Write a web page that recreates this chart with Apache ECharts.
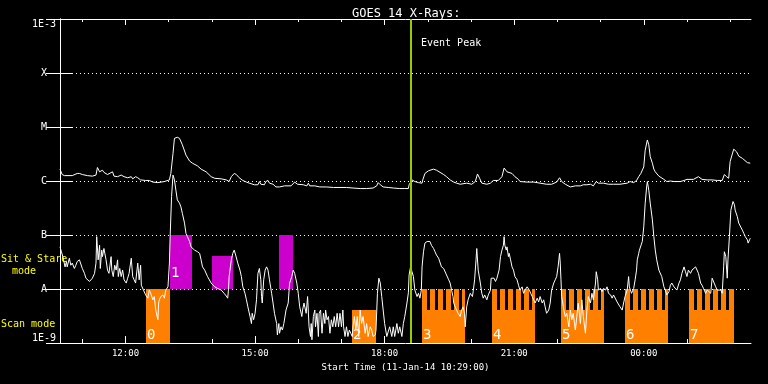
<!DOCTYPE html>
<html><head><meta charset="utf-8">
<script src="https://cdn.jsdelivr.net/npm/echarts@6/dist/echarts.min.js"></script>
<style>html,body{margin:0;padding:0;background:#000}#c{width:768px;height:384px}</style>
</head><body><div id="c"></div><script>
// ---- data (x: minutes since start 11-Jan-14 10:29:00, y: log10 flux W/m^2) ----
const titleText = 'GOES 14 X-Rays:';
const startLabel = 'Start Time (11-Jan-14 10:29:00)';
const xMax = 960;
const hourTickMinutes = [31,91,151,211,271,331,391,451,511,571,631,691,751,811,871,931];
const xLabelMinutes = [91,271,451,631,811];
const xLabels = ['12:00','15:00','18:00','21:00','00:00'];
const yTickValues = [-9,-8,-7,-6,-5,-4,-3];
const yTickLabels = ['1E-9','A','B','C','M','X','1E-3'];
const eventPeakMinute = 487;
const eventLabel = 'Event Peak';
const modeLabels = ['Sit & Stare', 'mode', 'Scan mode'];

const longXray = [[0,-5.78],[3,-5.88],[6,-5.90],[17,-5.90],[24,-5.86],[27,-5.86],[31,-5.88],[38,-5.90],[45,-5.91],[50,-5.89],[52,-5.75],[55,-5.83],[57,-5.81],[59,-5.80],[61,-5.84],[66,-5.88],[68,-5.90],[73,-5.83],[75,-5.91],[80,-5.92],[85,-5.89],[87,-5.87],[89,-5.92],[94,-5.94],[99,-5.92],[101,-5.96],[105,-5.92],[108,-5.94],[112,-5.98],[119,-5.99],[124,-5.99],[129,-6.02],[136,-6.03],[145,-6.01],[152,-5.98],[154,-5.86],[157,-5.49],[159,-5.21],[163,-5.19],[166,-5.21],[170,-5.33],[175,-5.52],[180,-5.63],[184,-5.67],[191,-5.72],[196,-5.78],[203,-5.83],[210,-5.92],[215,-5.95],[224,-5.96],[231,-5.98],[235,-6.01],[238,-5.92],[242,-5.86],[245,-5.88],[249,-5.94],[254,-5.99],[259,-6.02],[263,-6.04],[270,-6.07],[275,-6.07],[277,-6.01],[279,-6.06],[284,-6.07],[286,-6.01],[289,-5.99],[291,-6.04],[296,-6.06],[300,-6.11],[305,-6.11],[312,-6.09],[321,-6.09],[326,-6.02],[330,-6.06],[338,-6.07],[343,-6.09],[345,-6.04],[347,-6.09],[354,-6.09],[361,-6.11],[370,-6.11],[380,-6.12],[389,-6.12],[398,-6.12],[407,-6.13],[417,-6.14],[426,-6.14],[435,-6.13],[440,-6.09],[442,-6.03],[445,-6.07],[449,-6.11],[456,-6.12],[463,-6.13],[472,-6.14],[479,-6.14],[484,-6.14],[485,-6.07],[489,-5.98],[491,-5.98],[493,-6.01],[498,-6.03],[503,-6.04],[504,-5.98],[507,-5.86],[512,-5.81],[519,-5.78],[523,-5.80],[528,-5.84],[533,-5.88],[537,-5.92],[542,-5.98],[547,-6.02],[551,-6.04],[556,-6.06],[565,-6.04],[572,-6.06],[577,-6.01],[580,-5.87],[583,-5.95],[586,-6.04],[593,-6.06],[598,-6.04],[602,-5.99],[609,-5.99],[614,-5.92],[617,-5.76],[621,-5.83],[623,-5.81],[628,-5.86],[632,-5.92],[637,-5.97],[639,-6.01],[649,-6.02],[658,-6.02],[667,-6.04],[676,-6.06],[683,-6.06],[690,-6.02],[694,-5.94],[697,-6.01],[702,-6.06],[709,-6.11],[716,-6.09],[723,-6.09],[727,-6.07],[732,-6.07],[737,-6.06],[741,-6.09],[745,-6.01],[748,-6.04],[755,-6.04],[762,-6.06],[769,-6.06],[778,-6.06],[788,-6.04],[792,-6.01],[797,-6.03],[801,-5.99],[804,-5.92],[807,-5.86],[811,-5.74],[813,-5.43],[816,-5.24],[818,-5.33],[820,-5.55],[823,-5.67],[825,-5.78],[827,-5.83],[832,-5.91],[839,-5.97],[843,-6.01],[848,-6.00],[853,-6.01],[862,-6.01],[867,-5.99],[871,-5.97],[880,-5.97],[887,-5.92],[892,-5.97],[899,-5.98],[906,-5.98],[913,-5.99],[920,-5.99],[923,-5.88],[926,-5.92],[929,-5.95],[931,-5.64],[936,-5.41],[940,-5.46],[943,-5.54],[948,-5.58],[955,-5.66],[959,-5.67]];

const shortXray = [[0,-7.22],[2,-7.31],[5,-7.46],[7,-7.59],[9,-7.49],[10,-7.59],[13,-7.43],[15,-7.56],[17,-7.52],[20,-7.62],[22,-7.56],[24,-7.49],[27,-7.46],[29,-7.49],[31,-7.62],[34,-7.71],[36,-7.80],[38,-7.83],[41,-7.86],[43,-7.83],[45,-7.80],[48,-7.71],[50,-7.52],[51,-7.03],[53,-7.46],[55,-7.19],[56,-7.62],[58,-7.28],[59,-7.40],[61,-7.25],[64,-7.46],[66,-7.65],[68,-7.71],[71,-7.40],[72,-7.65],[74,-7.77],[76,-7.56],[78,-7.65],[80,-7.46],[81,-7.77],[83,-7.62],[85,-7.77],[87,-7.65],[89,-7.83],[92,-7.89],[94,-7.80],[96,-7.71],[99,-7.43],[101,-7.77],[103,-7.83],[105,-7.89],[108,-7.52],[110,-7.83],[112,-7.56],[113,-7.93],[116,-8.02],[119,-8.11],[122,-8.17],[124,-8.02],[126,-8.08],[129,-8.20],[131,-8.14],[133,-8.39],[136,-8.57],[137,-8.26],[138,-8.20],[140,-8.14],[143,-8.11],[145,-8.17],[147,-8.02],[150,-7.96],[152,-7.52],[153,-7.03],[155,-6.29],[157,-5.89],[159,-5.98],[161,-6.17],[163,-6.35],[166,-6.41],[168,-6.48],[170,-6.60],[173,-6.78],[175,-6.97],[177,-7.03],[180,-7.12],[182,-7.22],[184,-7.22],[187,-7.28],[191,-7.31],[194,-7.34],[196,-7.46],[198,-7.59],[201,-7.65],[205,-7.77],[210,-7.89],[215,-7.96],[219,-7.99],[224,-8.02],[228,-8.08],[231,-8.13],[233,-8.17],[234,-8.02],[235,-7.77],[238,-7.46],[240,-7.34],[242,-7.28],[244,-7.37],[247,-7.52],[250,-7.65],[252,-7.77],[254,-7.96],[257,-8.08],[259,-8.20],[261,-8.33],[264,-8.51],[266,-8.64],[267,-8.45],[269,-8.57],[271,-8.45],[273,-8.20],[275,-7.71],[277,-7.62],[279,-7.83],[280,-8.14],[281,-8.26],[283,-7.83],[285,-7.65],[287,-7.59],[289,-7.65],[291,-7.83],[294,-8.08],[296,-8.26],[298,-8.45],[301,-8.64],[302,-8.85],[304,-8.64],[305,-8.82],[307,-8.70],[309,-8.76],[311,-8.64],[314,-8.39],[317,-8.26],[319,-7.89],[322,-7.77],[324,-7.65],[326,-7.71],[329,-7.89],[331,-8.08],[333,-8.33],[336,-8.51],[337,-8.39],[339,-8.26],[342,-8.45],[344,-8.14],[345,-8.11],[346,-8.70],[348,-8.88],[349,-8.64],[350,-8.94],[352,-8.51],[354,-8.39],[355,-8.70],[357,-8.45],[359,-8.88],[360,-8.45],[362,-8.39],[364,-8.82],[366,-8.45],[368,-8.64],[369,-8.39],[371,-8.57],[373,-8.51],[375,-8.82],[377,-8.57],[379,-8.70],[381,-8.51],[383,-8.70],[385,-8.45],[387,-8.70],[389,-8.45],[391,-8.70],[393,-8.39],[394,-8.70],[396,-8.88],[398,-8.70],[400,-8.88],[402,-8.76],[404,-8.82],[406,-8.88],[407,-8.70],[409,-8.51],[411,-8.76],[413,-8.51],[415,-8.88],[417,-8.39],[419,-8.64],[421,-8.51],[424,-8.82],[426,-8.64],[428,-8.88],[431,-8.70],[433,-8.76],[435,-8.88],[438,-8.85],[439,-8.76],[441,-8.08],[443,-7.80],[445,-7.89],[447,-8.14],[449,-8.39],[451,-8.64],[454,-8.88],[456,-8.85],[458,-8.70],[461,-8.88],[463,-8.70],[465,-8.88],[468,-8.64],[470,-8.82],[472,-8.70],[475,-8.88],[477,-8.64],[479,-8.51],[482,-8.26],[484,-8.07],[485,-7.74],[487,-7.59],[489,-7.68],[491,-7.77],[493,-8.02],[496,-8.14],[498,-8.08],[500,-8.17],[502,-8.02],[503,-7.59],[505,-7.31],[507,-7.15],[510,-7.12],[512,-7.15],[514,-7.12],[516,-7.19],[519,-7.25],[521,-7.31],[523,-7.37],[526,-7.43],[528,-7.46],[530,-7.59],[533,-7.62],[535,-7.65],[537,-7.74],[540,-7.83],[542,-7.89],[544,-8.02],[546,-8.14],[547,-8.26],[549,-8.33],[551,-8.39],[553,-8.45],[556,-8.51],[558,-8.39],[560,-8.33],[562,-8.45],[563,-8.70],[565,-8.33],[567,-8.20],[570,-8.08],[572,-8.05],[573,-8.14],[574,-8.05],[576,-7.83],[578,-7.46],[579,-7.25],[581,-7.65],[584,-7.89],[586,-8.08],[588,-8.17],[590,-8.11],[592,-8.08],[593,-8.20],[595,-8.11],[598,-8.02],[599,-7.80],[601,-7.83],[603,-7.80],[605,-7.86],[607,-7.80],[608,-7.83],[610,-7.65],[612,-7.40],[614,-7.28],[616,-7.19],[617,-7.03],[618,-7.19],[620,-7.28],[621,-7.22],[623,-7.40],[624,-7.34],[626,-7.46],[628,-7.59],[630,-7.65],[632,-7.77],[635,-7.83],[637,-7.93],[639,-8.02],[642,-7.96],[644,-8.08],[646,-8.02],[649,-7.96],[650,-7.93],[652,-8.02],[653,-8.05],[656,-8.14],[658,-8.17],[660,-8.26],[663,-8.17],[665,-8.24],[667,-8.14],[670,-8.26],[672,-8.20],[674,-8.33],[676,-8.45],[679,-8.39],[681,-8.26],[683,-8.02],[686,-7.89],[688,-7.83],[690,-7.77],[692,-7.59],[694,-7.34],[695,-7.52],[696,-7.83],[697,-8.14],[700,-8.39],[702,-8.51],[704,-8.45],[707,-8.70],[709,-8.39],[711,-8.57],[713,-8.45],[716,-8.76],[718,-8.51],[720,-8.26],[723,-8.64],[725,-8.20],[727,-8.51],[730,-8.82],[732,-8.39],[734,-8.14],[737,-8.26],[739,-8.08],[741,-8.20],[744,-7.89],[745,-7.68],[747,-7.83],[748,-8.02],[751,-7.99],[753,-8.05],[755,-7.99],[758,-8.02],[760,-7.96],[762,-8.08],[765,-8.11],[767,-8.17],[769,-8.11],[771,-8.14],[774,-8.24],[776,-8.26],[778,-8.33],[781,-8.39],[783,-8.26],[785,-8.14],[788,-8.02],[790,-7.77],[791,-7.96],[794,-8.08],[796,-8.11],[797,-7.99],[799,-7.83],[801,-7.65],[802,-7.46],[804,-7.34],[805,-7.28],[807,-7.28],[809,-7.12],[811,-6.85],[813,-6.41],[815,-6.11],[816,-6.01],[818,-6.17],[820,-6.41],[823,-6.72],[825,-7.03],[827,-7.28],[829,-7.46],[832,-7.65],[834,-7.68],[836,-7.77],[839,-7.96],[841,-8.02],[843,-8.11],[846,-8.05],[848,-7.93],[850,-7.89],[853,-7.96],[855,-7.93],[857,-8.02],[860,-7.89],[862,-7.83],[864,-7.71],[867,-7.59],[869,-7.68],[871,-7.77],[873,-7.65],[876,-7.71],[878,-7.65],[880,-7.65],[883,-7.59],[885,-7.56],[887,-7.71],[890,-7.89],[892,-7.93],[894,-7.99],[897,-8.08],[899,-8.02],[901,-8.02],[904,-8.08],[906,-7.80],[908,-7.83],[911,-7.96],[913,-8.02],[915,-8.05],[918,-8.02],[920,-8.08],[922,-7.59],[923,-7.31],[925,-7.40],[927,-7.80],[928,-7.46],[930,-7.03],[932,-6.54],[935,-6.38],[937,-6.44],[938,-6.54],[941,-6.66],[943,-6.78],[945,-6.81],[948,-6.91],[950,-6.97],[952,-7.03],[955,-7.09],[956,-7.15],[958,-7.09],[959,-7.06]];

// scan-mode windows: [start, end, bottom, top, teethTop|null, label]
const scanBlocks = [
  [120,153,-9,-8,null,'0'],
  [406,439,-9,-8.39,null,'2'],
  [503,563,-9,-8.39,-8,'3'],
  [600,660,-9,-8.39,-8,'4'],
  [696,756,-9,-8.39,-8,'5'],
  [785,845,-9,-8.39,-8,'6'],
  [874,936,-9,-8.39,-8,'7']
];
const combTeethOffsets = [0,11,22,33,44,56];
const combToothMinutes = 7;
// sit & stare windows: [start, end, bottom, top, label]
const sitStareBlocks = [
  [153,184,-8,-7,'1'],
  [211,241,-8,-7.39,''],
  [304,324,-8,-7,'']
];

// ---- styles ----
const MONO = '"DejaVu Sans Mono", monospace';
const ORANGE = '#ff8000';
const MAGENTA = '#cc00cc';
const GREEN = '#99cc00';

function rectBetween(api, x0, x1, y0, y1) {
  const a = api.coord([x0, y1]);
  const b = api.coord([x1, y0]);
  const l = Math.round(a[0]), t = Math.round(a[1]);
  return { x: l, y: t, width: Math.round(b[0]) - l, height: Math.round(b[1]) - t };
}

const chart = echarts.init(document.getElementById('c'), null, { renderer: 'canvas' });
const fmtX = v => { const i = xLabelMinutes.indexOf(Math.round(v)); return i >= 0 ? xLabels[i] : ''; };
const fmtY = v => { const i = yTickValues.indexOf(Math.round(v)); return i >= 0 ? yTickLabels[i] : ''; };

chart.setOption({
  backgroundColor: '#000',
  animation: false,
  title: { text: titleText, left: 347, top: 3,
    textStyle: { color: '#fff', fontFamily: MONO, fontSize: 12, fontWeight: 'normal' } },
  grid: { left: 60, right: 17, top: 19, bottom: 41, show: false },
  xAxis: [
    { type: 'value', min: 0, max: xMax, position: 'bottom',
      axisLine: { show: true, lineStyle: { color: '#fff', width: 1 } },
      axisTick: { show: true, inside: true, length: 7, customValues: xLabelMinutes, lineStyle: { color: '#fff' } },
      axisLabel: { show: true, customValues: xLabelMinutes, formatter: fmtX, color: '#fff', fontFamily: MONO, fontSize: 9, margin: 6 },
      splitLine: { show: false },
      name: startLabel, nameLocation: 'middle', nameGap: 19,
      nameTextStyle: { color: '#fff', fontFamily: MONO, fontSize: 9 } },
    { type: 'value', min: 0, max: xMax, position: 'bottom',
      axisLine: { show: false },
      axisTick: { show: true, inside: true, length: 4, customValues: hourTickMinutes, lineStyle: { color: '#fff' } },
      axisLabel: { show: false }, splitLine: { show: false } },
    { type: 'value', min: 0, max: xMax, position: 'top',
      axisLine: { show: true, lineStyle: { color: '#fff', width: 1 } },
      axisTick: { show: true, inside: true, length: 6, customValues: xLabelMinutes, lineStyle: { color: '#fff' } },
      axisLabel: { show: false }, splitLine: { show: false } },
    { type: 'value', min: 0, max: xMax, position: 'top',
      axisLine: { show: false },
      axisTick: { show: true, inside: true, length: 3, customValues: hourTickMinutes, lineStyle: { color: '#fff' } },
      axisLabel: { show: false }, splitLine: { show: false } }
  ],
  yAxis: [
    { type: 'value', min: -9, max: -3, interval: 1, position: 'left',
      axisLine: { show: true, lineStyle: { color: '#fff', width: 1 } },
      axisTick: { show: true, inside: true, length: 13, lineStyle: { color: '#fff' } },
      axisLabel: { show: true, formatter: fmtY, color: '#fff', fontFamily: MONO, fontSize: 10,
        margin: 16, align: 'center', verticalAlignMaxLabel: 'top', verticalAlignMinLabel: 'bottom' },
      splitLine: { show: true, lineStyle: { color: '#fff', width: 1, type: [1, 3] } } },
    { type: 'value', min: -9, max: -3, interval: 1, position: 'right',
      axisLine: { show: true, lineStyle: { color: '#fff', width: 1 } },
      axisTick: { show: true, inside: true, length: 14, lineStyle: { color: '#fff' } },
      axisLabel: { show: false }, splitLine: { show: false } }
  ],
  graphic: [
    { type: 'text', x: 1, y: 259.5, style: { text: modeLabels[0], fill: '#ffff00', font: '10px ' + MONO, verticalAlign: 'middle', textVerticalAlign: 'middle' } },
    { type: 'text', x: 12, y: 271, style: { text: modeLabels[1], fill: '#ffff00', font: '10px ' + MONO, verticalAlign: 'middle', textVerticalAlign: 'middle' } },
    { type: 'text', x: 1, y: 324, style: { text: modeLabels[2], fill: '#ffff00', font: '10px ' + MONO, verticalAlign: 'middle', textVerticalAlign: 'middle' } },
    { type: 'text', x: 421, y: 43, style: { text: eventLabel, fill: '#fff', font: '10px ' + MONO, verticalAlign: 'middle', textVerticalAlign: 'middle' } }
  ],
  series: [
    { type: 'custom', name: 'scan', xAxisIndex: 0, yAxisIndex: 0, clip: true, z: 1,
      data: scanBlocks.map(b => [b[0], b[1], b[2], b[3]]),
      encode: { x: [0, 1], y: [2, 3] },
      renderItem: (params, api) => {
        const b = scanBlocks[params.dataIndex];
        const children = [{ type: 'rect', shape: rectBetween(api, b[0], b[1], b[2], b[3]), style: { fill: ORANGE } }];
        if (b[4] !== null) {
          combTeethOffsets.forEach(o => {
            const s = b[0] + o, e = Math.min(s + combToothMinutes, b[1]);
            children.push({ type: 'rect', shape: rectBetween(api, s, e, b[3], b[4]), style: { fill: ORANGE } });
          });
        }
        const p = api.coord([b[0], b[2]]);
        children.push({ type: 'text', x: Math.round(p[0]) + 1, y: p[1] - 1,
          style: { text: b[5], fill: '#fff', font: '14px ' + MONO, align: 'left', verticalAlign: 'bottom' } });
        return { type: 'group', children };
      } },
    { type: 'custom', name: 'sitstare', xAxisIndex: 0, yAxisIndex: 0, clip: true, z: 1,
      data: sitStareBlocks.map(b => [b[0], b[1], b[2], b[3]]),
      encode: { x: [0, 1], y: [2, 3] },
      renderItem: (params, api) => {
        const b = sitStareBlocks[params.dataIndex];
        const p = api.coord([b[0], b[2]]);
        return { type: 'group', children: [
          { type: 'rect', shape: rectBetween(api, b[0], b[1], b[2], b[3]), style: { fill: MAGENTA } },
          { type: 'text', x: Math.round(p[0]) + 1, y: p[1] - 9,
            style: { text: b[4], fill: '#fff', font: '14px ' + MONO, align: 'left', verticalAlign: 'bottom' } }
        ] };
      } },
    { type: 'line', name: 'long', data: longXray, xAxisIndex: 0, yAxisIndex: 0,
      showSymbol: false, symbol: 'none', z: 3, clip: true,
      lineStyle: { color: '#fff', width: 1 } },
    { type: 'line', name: 'short', data: shortXray, xAxisIndex: 0, yAxisIndex: 0,
      showSymbol: false, symbol: 'none', z: 3, clip: true,
      lineStyle: { color: '#fff', width: 1 },
      markLine: { silent: true, symbol: 'none', label: { show: false },
        lineStyle: { color: GREEN, width: 2, type: 'solid' },
        data: [{ xAxis: eventPeakMinute }] } }
  ]
});
</script></body></html>
